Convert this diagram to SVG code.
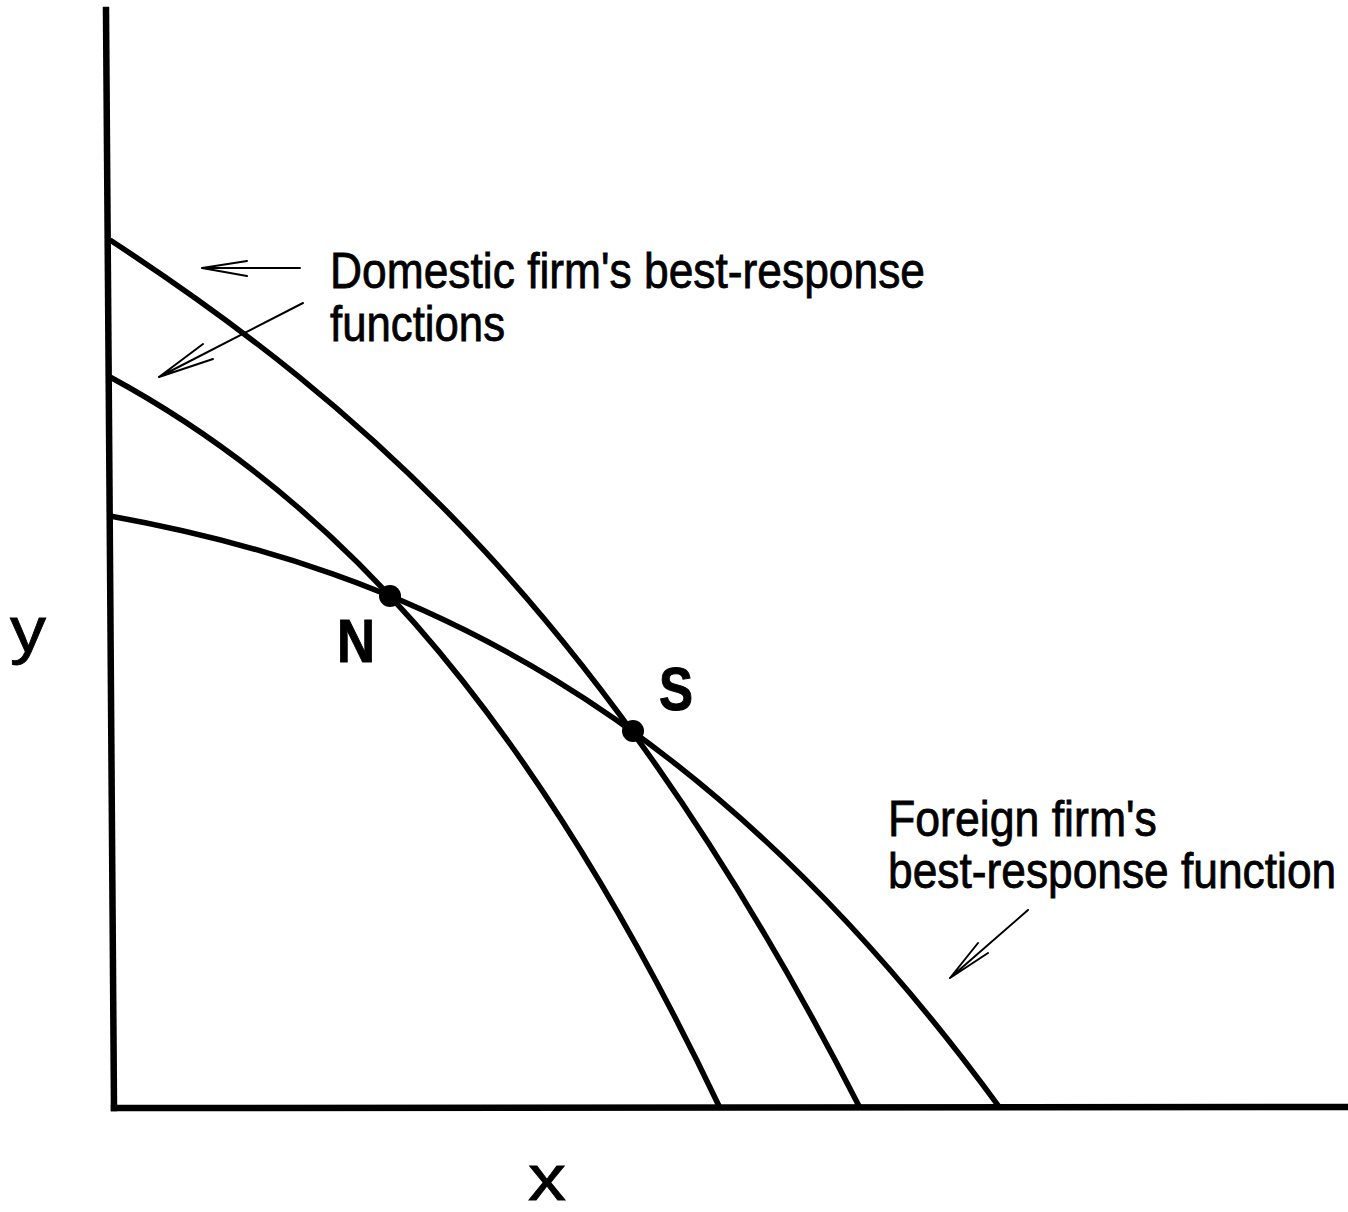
<svg xmlns="http://www.w3.org/2000/svg" width="1348" height="1212" viewBox="0 0 1348 1212">
<style>
.ax{stroke:#000;stroke-width:6.5;fill:none;stroke-linecap:square}
.cv{stroke:#000;stroke-width:5.5;fill:none}
.ar{stroke:#000;stroke-width:2;fill:none;stroke-linecap:round}
.lbl{font-family:"Liberation Sans",Arial,sans-serif;fill:#000;stroke:#000;stroke-width:0.8}
.big{font-family:"Liberation Sans",Arial,sans-serif;font-weight:700;fill:#000;stroke:#000;stroke-width:1}
</style>
<rect width="1348" height="1212" fill="#fff"/>
<g id="axes">
<line class="ax" x1="106" y1="10" x2="114" y2="1108"/>
<line class="ax" x1="114" y1="1108" x2="1348" y2="1107"/>
</g>
<g id="curves">
<path id="domestic-high" class="cv" d="M110,240 C360,403.5 610,617.6 860,1108"/>
<path id="domestic-low" class="cv" d="M110,377 C313.3,487 516.7,681 720,1108"/>
<path id="foreign" class="cv" d="M110,516 C406.7,569.3 703.3,702.3 1000,1108"/>
</g>
<g id="node-N">
<circle cx="390" cy="596" r="11" fill="#000"/>
<text class="big" x="337" y="662" font-size="62" textLength="38" lengthAdjust="spacingAndGlyphs">N</text>
</g>
<g id="node-S">
<circle cx="633" cy="731" r="11" fill="#000"/>
<text class="big" x="659" y="710" font-size="62" textLength="34" lengthAdjust="spacingAndGlyphs">S</text>
</g>
<g id="connectors">
<path class="ar" d="M300,268 L202,268 M202,268 L247,261 M202,268 L247,276"/>
<path class="ar" d="M303,303 L159,377 M159,377 L203,344 M159,377 L213,359"/>
<path class="ar" d="M1028,910 L950,978 M950,978 L978,943 M950,978 L988,953"/>
</g>
<g id="labels">
<text class="lbl" x="330" y="288" font-size="50" textLength="595" lengthAdjust="spacingAndGlyphs">Domestic firm's best-response</text>
<text class="lbl" x="330" y="341" font-size="50" textLength="175" lengthAdjust="spacingAndGlyphs">functions</text>
<g transform="translate(888,0) scale(0.83,1)">
<text class="lbl" x="0" y="836" font-size="50" textLength="324" lengthAdjust="spacingAndGlyphs">Foreign firm's</text>
<text class="lbl" x="0" y="888" font-size="50" textLength="540" lengthAdjust="spacingAndGlyphs">best-response function</text>
</g>
<text class="lbl" x="10" y="652" font-size="64" textLength="36" lengthAdjust="spacingAndGlyphs">y</text>
<text class="lbl" x="528" y="1200" font-size="64" textLength="38" lengthAdjust="spacingAndGlyphs">x</text>
</g>
</svg>
